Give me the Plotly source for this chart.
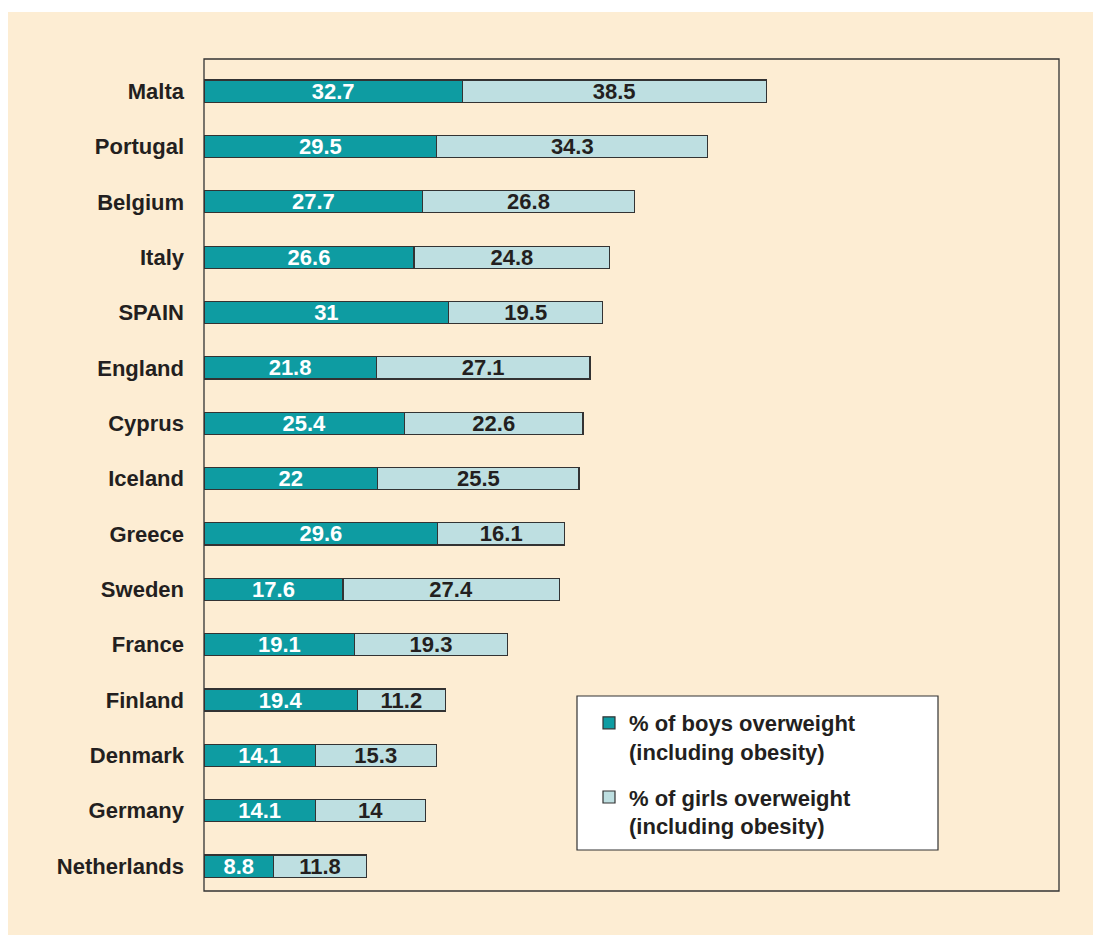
import plotly.graph_objects as go

countries = ["Malta", "Portugal", "Belgium", "Italy", "SPAIN", "England", "Cyprus",
             "Iceland", "Greece", "Sweden", "France", "Finland", "Denmark", "Germany",
             "Netherlands"]
boys = [32.7, 29.5, 27.7, 26.6, 31, 21.8, 25.4, 22, 29.6, 17.6, 19.1, 19.4, 14.1, 14.1, 8.8]
girls = [38.5, 34.3, 26.8, 24.8, 19.5, 27.1, 22.6, 25.5, 16.1, 27.4, 19.3, 11.2, 15.3, 14, 11.8]

boys_name = "% of boys overweight<br>(including obesity)"
girls_name = "% of girls overweight<br>(including obesity)"

TEAL = "#0E9CA2"
LIGHT = "#BEDFE1"
DARK = "#231F20"
FONT = "Liberation Sans, Arial, sans-serif"

fig = go.Figure()
fig.add_trace(go.Bar(
    y=countries, x=boys, orientation="h", name=boys_name, legendgroup="b",
    marker=dict(color=TEAL, line=dict(color="#333333", width=1.2)),
    text=[f"<b>{v:g}</b>" for v in boys], textposition="inside",
    insidetextanchor="middle", constraintext="none", textangle=0,
    textfont=dict(color="white", size=22, family=FONT),
    width=0.4, hoverinfo="skip",
))
fig.add_trace(go.Bar(
    y=countries, x=girls, orientation="h", name=girls_name, legendgroup="g",
    marker=dict(color=LIGHT, line=dict(color="#333333", width=1.2)),
    text=[f"<b>{v:g}</b>" for v in girls], textposition="inside",
    insidetextanchor="middle", constraintext="none", textangle=0,
    textfont=dict(color=DARK, size=22, family=FONT),
    width=0.4, hoverinfo="skip",
))

W, H = 1093, 936
L, R, T, B = 204, 1059, 59, 891
pw, ph = R - L, B - T

def px(x):
    return (x - L) / pw

def py(y):
    return (B - y) / ph

shapes = [
    dict(type="rect", xref="paper", yref="paper", x0=px(8), x1=px(1093), y0=py(935), y1=py(12),
         fillcolor="#FDEDD3", line=dict(width=0), layer="below"),
    dict(type="rect", xref="paper", yref="paper", x0=0, x1=1, y0=0, y1=1,
         fillcolor="rgba(0,0,0,0)", line=dict(color="#333333", width=1.3), layer="above"),
    dict(type="rect", xref="paper", yref="paper", x0=px(577), x1=px(938), y0=py(850), y1=py(696),
         fillcolor="white", line=dict(color="#333333", width=1.2), layer="above"),
]

fig.update_layout(
    width=W, height=H,
    margin=dict(l=L, r=W - R, t=T, b=H - B, pad=0),
    paper_bgcolor="white", plot_bgcolor="#EEF7F6",
    barmode="stack", bargap=0.6,
    showlegend=True,
    legend=dict(
        x=px(589), y=py(702), xanchor="left", yanchor="top",
        bgcolor="rgba(0,0,0,0)", borderwidth=0,
        font=dict(family=FONT, size=22, color=DARK, weight="bold"),
        traceorder="grouped", tracegroupgap=14, valign="top",
    ),
    shapes=shapes,
    xaxis=dict(range=[0, 108.3], showgrid=False, zeroline=False, showticklabels=False,
               ticks="", showline=False, fixedrange=True),
    yaxis=dict(type="category", categoryorder="array", categoryarray=countries,
               range=[14.45, -0.58], showgrid=False, zeroline=False, ticks="",
               showline=False, ticklabelstandoff=19,
               tickfont=dict(family=FONT, size=22, color=DARK, weight="bold")),
    font=dict(family=FONT),
)

fig.write_html("out.html", config={"displayModeBar": False},
               post_script="document.body.style.margin='0';document.body.style.padding='0';")
